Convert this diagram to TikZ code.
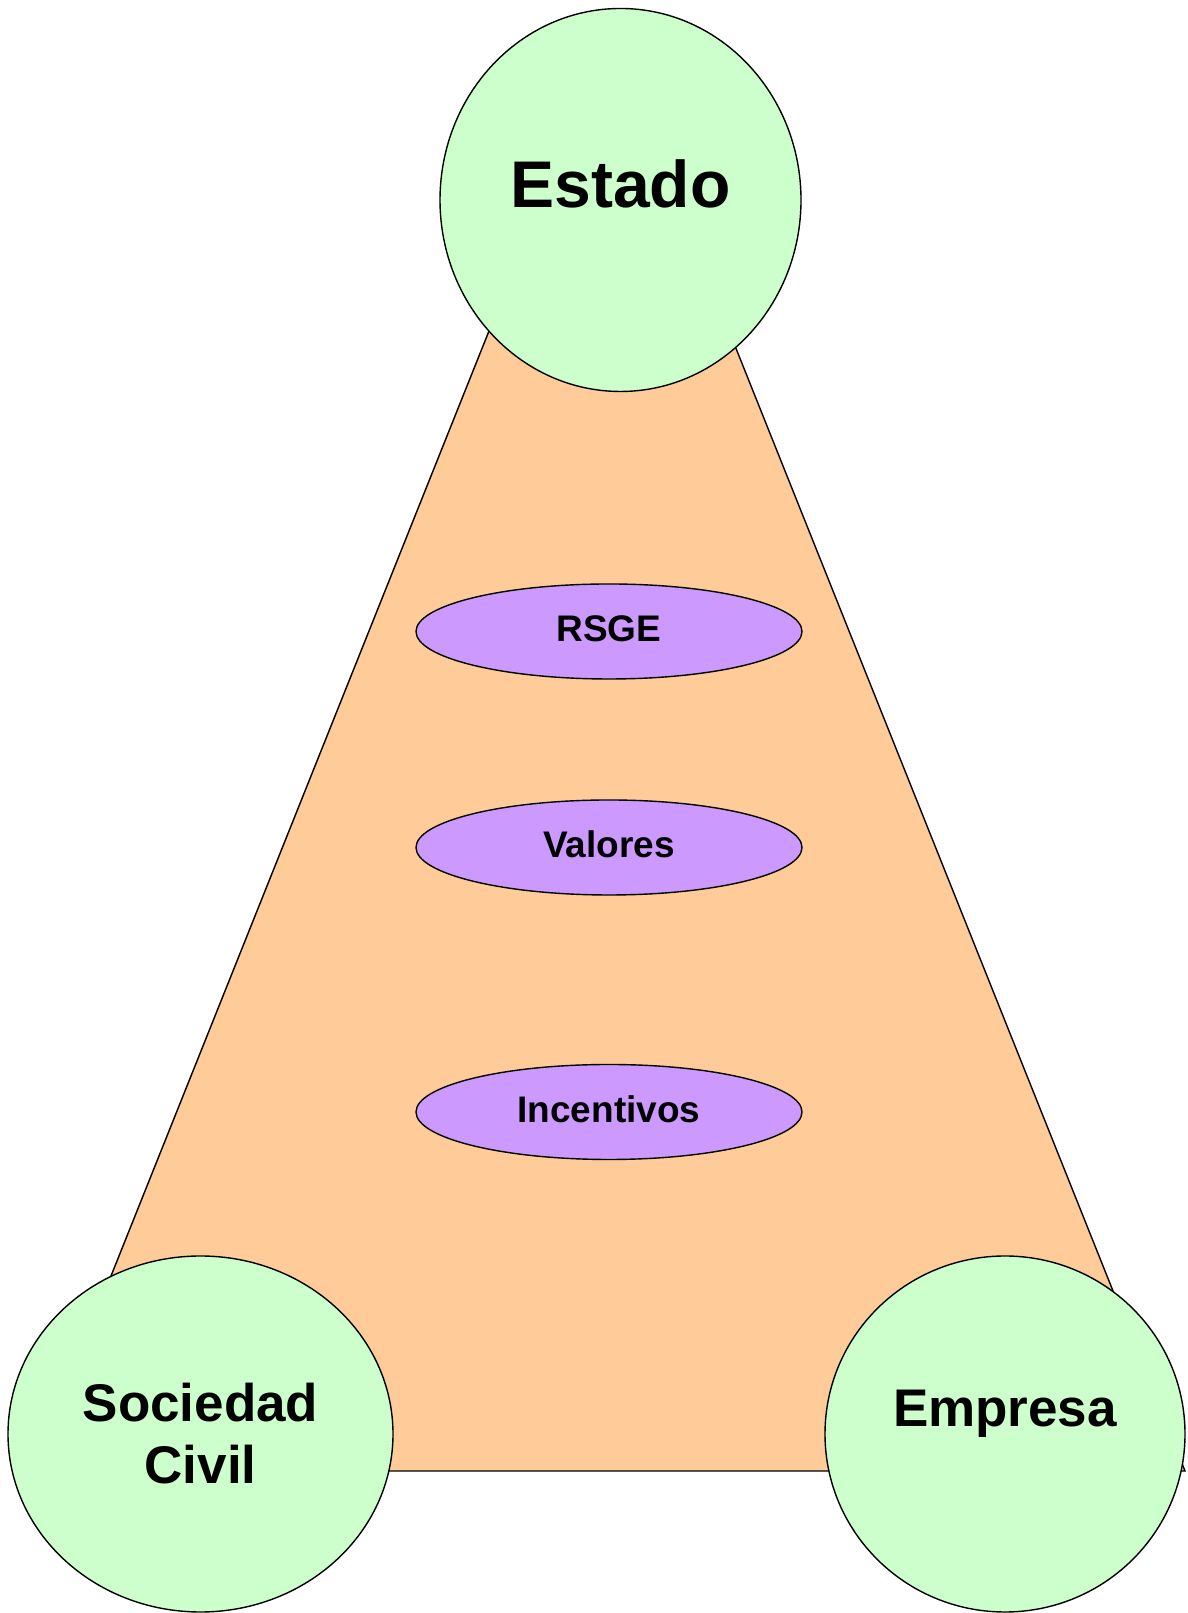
\documentclass[tikz,border=0pt]{standalone}
\usepackage{fontspec}
\setmainfont{Liberation Sans}
\usetikzlibrary{shapes.geometric}
\newlength{\du}
\setlength{\du}{1pt}
\definecolor{actorfill}{rgb}{0.800000, 1.000000, 0.800000}
\definecolor{topicfill}{rgb}{0.800000, 0.600000, 1.000000}
\definecolor{basefill}{rgb}{1.000000, 0.800000, 0.600000}
\tikzset{
  actor/.style={ellipse, draw=black, fill=actorfill, line width=1.4\du, inner sep=0pt, align=center, font=\bfseries\fontsize{53\du}{62\du}\selectfont},
  topic/.style={ellipse, draw=black, fill=topicfill, line width=1.4\du, inner sep=0pt, minimum width=386\du, minimum height=95\du, font=\bfseries\fontsize{37\du}{40\du}\selectfont},
}
\begin{document}
\begin{tikzpicture}
\useasboundingbox (0\du,0\du) rectangle (1187\du,1613\du);
% triangle
\coordinate (apex) at (609\du,1582\du);
\coordinate (left) at (33\du,142\du);
\coordinate (right) at (1185\du,142\du);
\filldraw[fill=basefill, draw=black, line width=1.4\du, line join=miter] (apex)--(left)--(right)--cycle;
% setfont left to latex
\node[actor, minimum width=361\du, minimum height=383\du, font=\bfseries\fontsize{66\du}{72\du}\selectfont] (estado) at (620.5\du,1413\du){\raisebox{32\du}{Estado}};
\node[actor, minimum width=385\du, minimum height=356\du] (sociedad) at (200.5\du,179\du){Sociedad\\Civil};
\node[actor, minimum width=360\du, minimum height=356\du] (empresa) at (1005\du,179\du){\raisebox{52\du}{Empresa}};
% setfont left to latex
\node[topic] (rsge) at (609\du,981.5\du){\raisebox{6\du}{RSGE}};
\node[topic] (valores) at (609\du,765.5\du){\raisebox{6\du}{Valores}};
\node[topic] (incentivos) at (609\du,501\du){\raisebox{6\du}{Incentivos}};
\end{tikzpicture}
\end{document}
